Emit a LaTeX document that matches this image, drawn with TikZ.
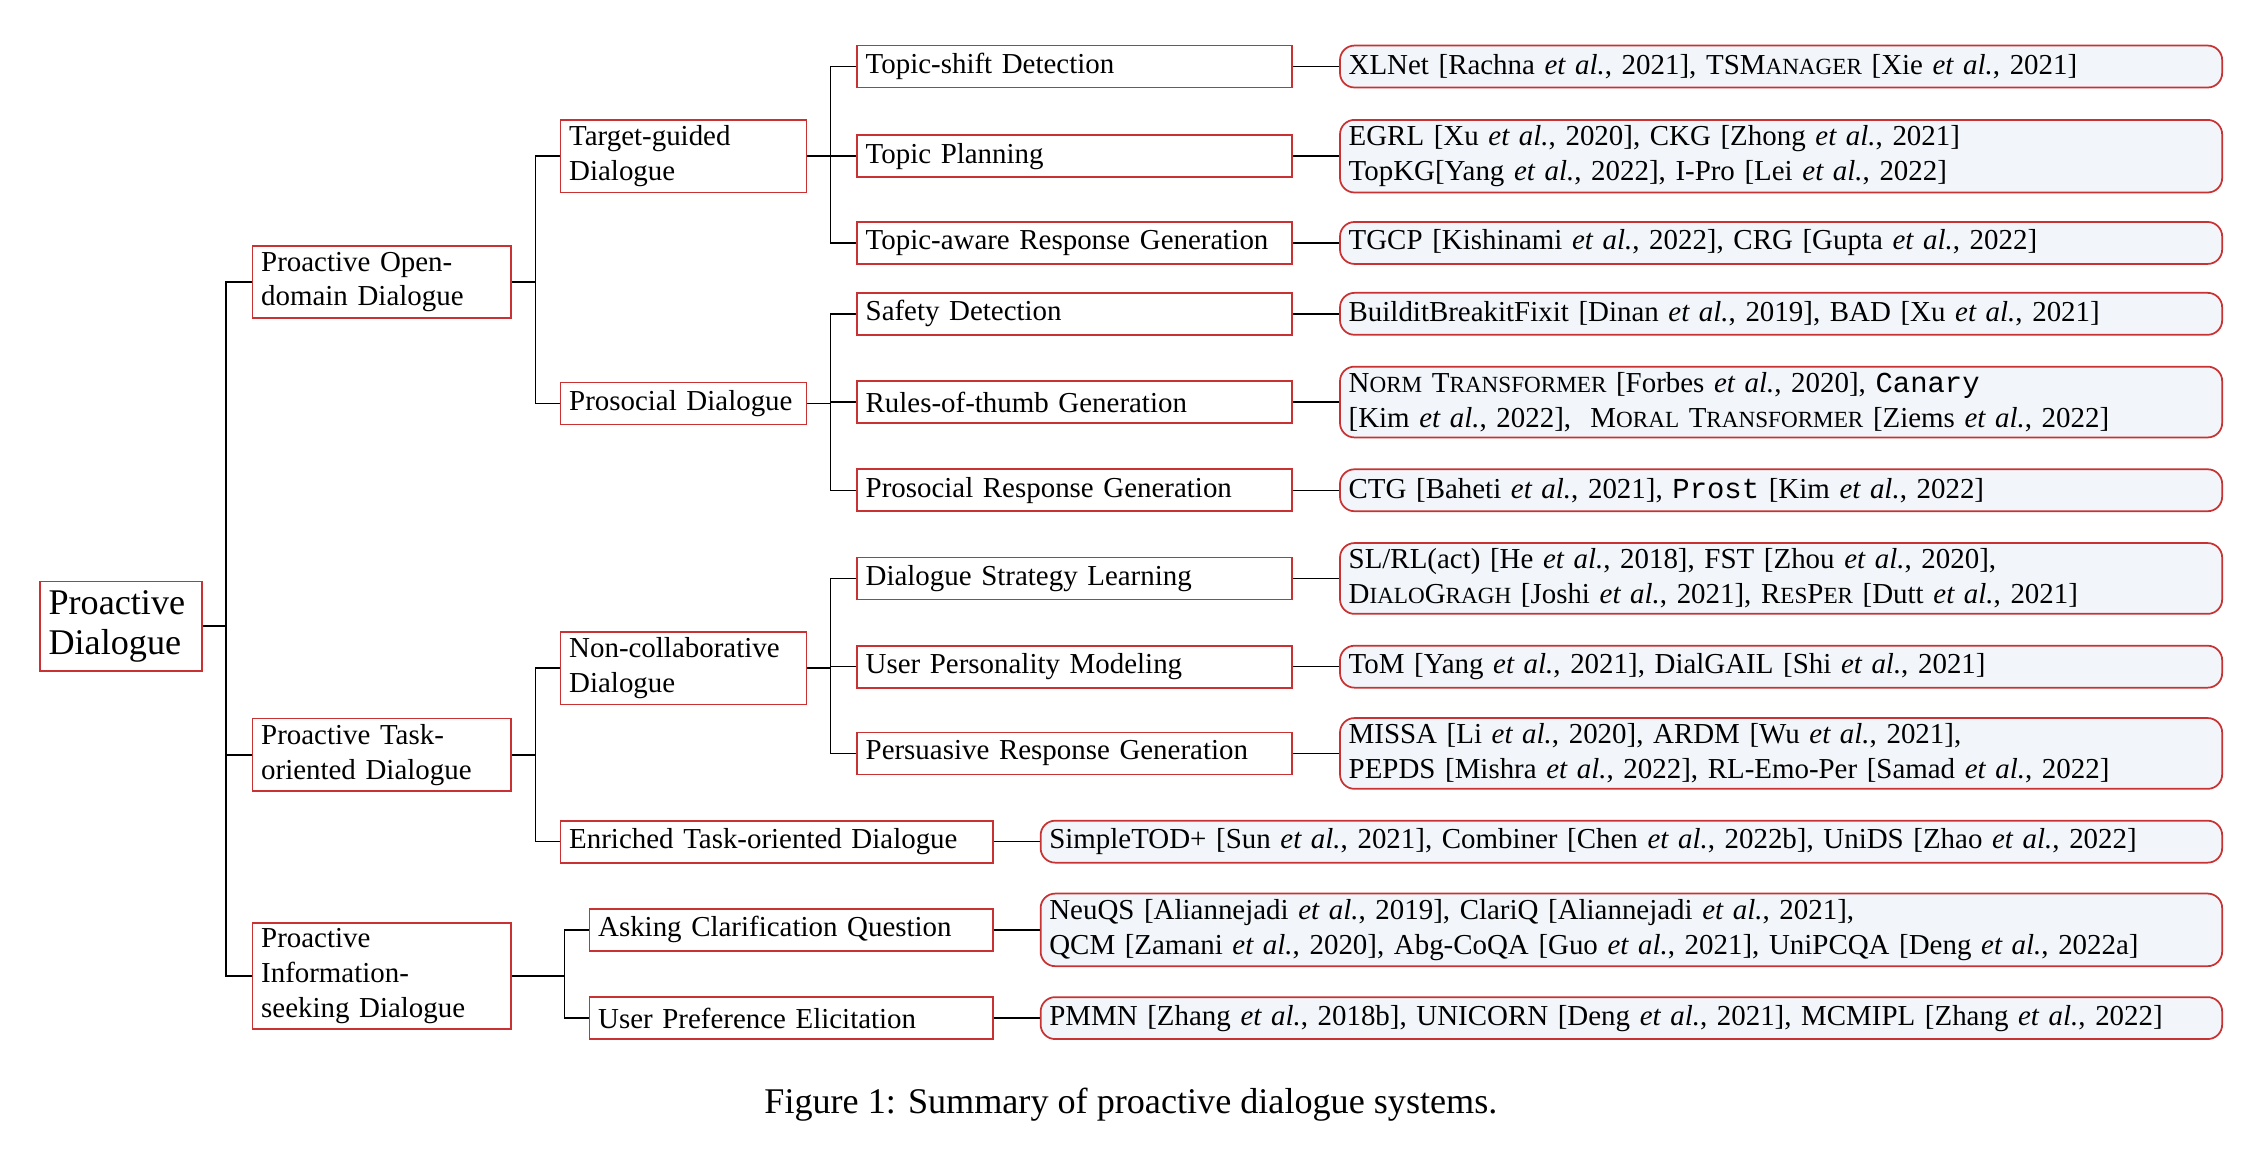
\documentclass[tikz,border=0pt]{standalone}
\usepackage{fontspec}
\setmainfont{Liberation Serif}
\setmonofont{Liberation Mono}
\definecolor{bred}{HTML}{C83232}
\definecolor{lfill}{HTML}{F2F6FA}
\newcommand{\etal}{\textit{et al.}}
\newcommand{\fsc}[2]{#1{\footnotesize #2}}
\begin{document}
\begin{tikzpicture}[x=0.5pt,y=-0.5pt,
  every node/.style={font=\fontsize{10}{12}\selectfont},
  cat/.style={draw=bred,line width=0.6pt,rectangle,anchor=west,align=left,inner xsep=3pt,inner ysep=2pt,minimum height=14.5pt},
  leaf/.style={cat,rounded corners=5pt,fill=lfill},
  conn/.style={draw=black,line width=0.5pt}]
\useasboundingbox (0,0) rectangle (1560,798);
% root
\node[cat,text width=50pt,font=\fontsize{12.5}{14}\selectfont,inner ysep=3pt] (root) at (27,433) {Proactive\\Dialogue};
% level 1
\node[cat,text width=83.5pt] (od) at (174,195) {Proactive Open-\\domain Dialogue};
\node[cat,text width=83.5pt] (to) at (174,522) {Proactive Task-\\oriented Dialogue};
\node[cat,text width=83.5pt] (is) at (174,675) {Proactive Information-\\seeking Dialogue};
% level 2
\node[cat,text width=79pt] (tg) at (387,108) {Target-guided\\Dialogue};
\node[cat,text width=79pt] (ps) at (387,279) {Prosocial Dialogue};
\node[cat,text width=79pt] (nc) at (387,462) {Non-collaborative\\Dialogue};
\node[cat,text width=143.5pt] (en) at (387,582) {Enriched Task-oriented Dialogue};
\node[cat,text width=133.5pt] (ac) at (407,643) {Asking Clarification Question};
\node[cat,text width=133.5pt] (up) at (407,704) {User Preference Elicitation};
% level 3
\node[cat,text width=144.5pt] (l1) at (592,46) {Topic-shift Detection};
\node[cat,text width=144.5pt] (l2) at (592,108) {Topic Planning};
\node[cat,text width=144.5pt] (l3) at (592,168) {Topic-aware Response Generation};
\node[cat,text width=144.5pt] (l4) at (592,217) {Safety Detection};
\node[cat,text width=144.5pt] (l5) at (592,278) {Rules-of-thumb Generation};
\node[cat,text width=144.5pt] (l6) at (592,339) {Prosocial Response Generation};
\node[cat,text width=144.5pt] (l7) at (592,400) {Dialogue Strategy Learning};
\node[cat,text width=144.5pt] (l8) at (592,461) {User Personality Modeling};
\node[cat,text width=144.5pt] (l9) at (592,521) {Persuasive Response Generation};
% leaves
\node[leaf,text width=299pt] (r1) at (926,46) {XLNet [Rachna \etal, 2021], TS\fsc{M}{ANAGER} [Xie \etal, 2021]};
\node[leaf,text width=299pt] (r2) at (926,108) {EGRL [Xu \etal, 2020], CKG [Zhong \etal, 2021]\\TopKG[Yang \etal, 2022], I-Pro [Lei \etal, 2022]};
\node[leaf,text width=299pt] (r3) at (926,168) {TGCP [Kishinami \etal, 2022], CRG [Gupta \etal, 2022]};
\node[leaf,text width=299pt] (r4) at (926,217) {BuilditBreakitFixit [Dinan \etal, 2019], BAD [Xu \etal, 2021]};
\node[leaf,text width=299pt] (r5) at (926,278) {\fsc{N}{ORM} \fsc{T}{RANSFORMER} [Forbes \etal, 2020], \texttt{Canary}\\{}[Kim \etal, 2022],\ \ \fsc{M}{ORAL} \fsc{T}{RANSFORMER} [Ziems \etal, 2022]};
\node[leaf,text width=299pt] (r6) at (926,339) {CTG [Baheti \etal, 2021], \texttt{Prost} [Kim \etal, 2022]};
\node[leaf,text width=299pt] (r7) at (926,400) {SL/RL(act) [He \etal, 2018], FST [Zhou \etal, 2020],\\\fsc{D}{IALO}\fsc{G}{RAGH} [Joshi \etal, 2021], \fsc{R}{ES}\fsc{P}{ER} [Dutt \etal, 2021]};
\node[leaf,text width=299pt] (r8) at (926,461) {ToM [Yang \etal, 2021], DialGAIL [Shi \etal, 2021]};
\node[leaf,text width=299pt] (r9) at (926,521) {MISSA [Li \etal, 2020], ARDM [Wu \etal, 2021],\\PEPDS [Mishra \etal, 2022], RL-Emo-Per [Samad \etal, 2022]};
\node[leaf,text width=402.5pt] (ren) at (719,582) {SimpleTOD+ [Sun \etal, 2021], Combiner [Chen \etal, 2022b], UniDS [Zhao \etal, 2022]};
\node[leaf,text width=402.5pt] (rac) at (719,643) {NeuQS [Aliannejadi \etal, 2019], ClariQ [Aliannejadi \etal, 2021],\\QCM [Zamani \etal, 2020], Abg-CoQA [Guo \etal, 2021], UniPCQA [Deng \etal, 2022a]};
\node[leaf,text width=402.5pt] (rup) at (719,704) {PMMN [Zhang \etal, 2018b], UNICORN [Deng \etal, 2021], MCMIPL [Zhang \etal, 2022]};
% caption
\node[font=\fontsize{12.5}{15}\selectfont] (cap) at (782,764) {Figure 1: Summary of proactive dialogue systems.};
% connectors
\foreach \c in {od,to,is} \draw[conn] (root.east) -- ++(16,0) |- (\c.west);
\foreach \c in {tg,ps} \draw[conn] (od.east) -- ++(16,0) |- (\c.west);
\foreach \c in {nc,en} \draw[conn] (to.east) -- ++(16,0) |- (\c.west);
\foreach \c in {ac,up} \draw[conn] (is.east) -- ++(36,0) |- (\c.west);
\foreach \c in {l1,l2,l3} \draw[conn] (tg.east) -- ++(16,0) |- (\c.west);
\foreach \c in {l4,l5,l6} \draw[conn] (ps.east) -- ++(16,0) |- (\c.west);
\foreach \c in {l7,l8,l9} \draw[conn] (nc.east) -- ++(16,0) |- (\c.west);
\foreach \a/\b in {l1/r1,l2/r2,l3/r3,l4/r4,l5/r5,l6/r6,l7/r7,l8/r8,l9/r9,en/ren,ac/rac,up/rup} \draw[conn] (\a.east) -- (\b.west);
\end{tikzpicture}
\end{document}
